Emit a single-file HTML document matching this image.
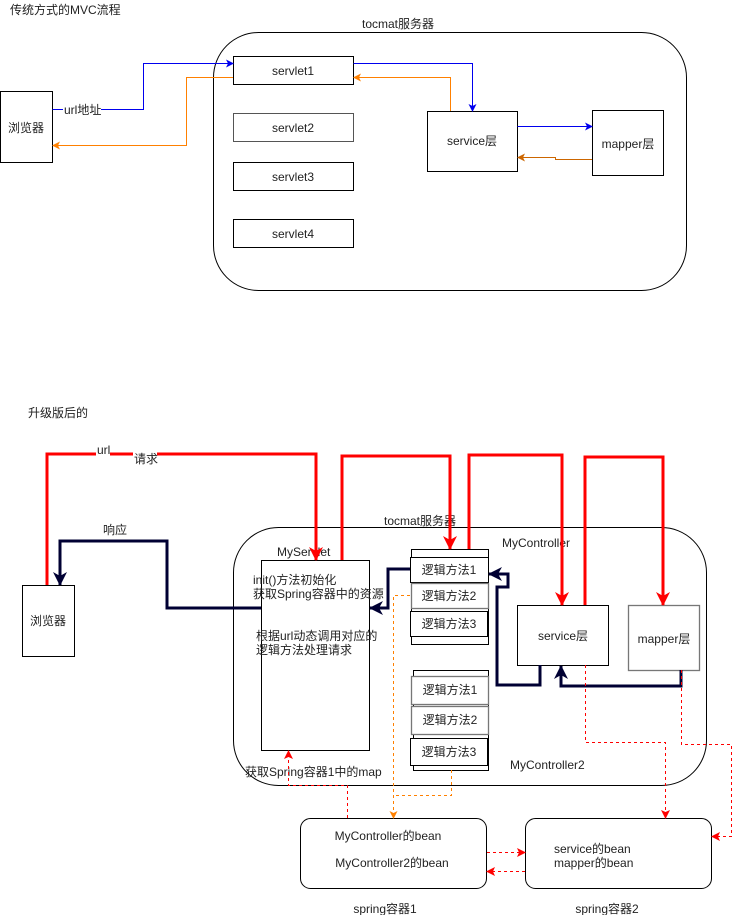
<!DOCTYPE html>
<html><head><meta charset="utf-8"><style>
html,body{margin:0;padding:0;background:#fff;}
svg{display:block;}
text{font-family:"Liberation Sans","Noto Sans CJK SC",sans-serif;font-size:12px;fill:#222;}
</style></head><body>
<svg width="740" height="915" viewBox="0 0 740 915" xmlns="http://www.w3.org/2000/svg">
<defs>
<marker id="ab" markerWidth="8" markerHeight="8" refX="7" refY="4" orient="auto" markerUnits="userSpaceOnUse"><path d="M0,0 L8,4 L0,8 L2,4z" fill="#0000ee"/></marker>
<marker id="ao" markerWidth="8" markerHeight="8" refX="7" refY="4" orient="auto" markerUnits="userSpaceOnUse"><path d="M0,0 L8,4 L0,8 L2,4z" fill="#ff8000"/></marker>
<marker id="ao2" markerWidth="8" markerHeight="8" refX="7" refY="4" orient="auto" markerUnits="userSpaceOnUse"><path d="M0,0 L8,4 L0,8 L2,4z" fill="#cc6600"/></marker>
<marker id="ar" markerWidth="14" markerHeight="14" refX="13" refY="7" orient="auto" markerUnits="userSpaceOnUse"><path d="M0,0 L14,7 L0,14 L4,7z" fill="#ff0000"/></marker>
<marker id="an" markerWidth="14" markerHeight="14" refX="13" refY="7" orient="auto" markerUnits="userSpaceOnUse"><path d="M0,0 L14,7 L0,14 L4,7z" fill="#000033"/></marker>
<marker id="ard" markerWidth="9" markerHeight="9" refX="8" refY="4.5" orient="auto" markerUnits="userSpaceOnUse"><path d="M0,0 L9,4.5 L0,9 L2,4.5z" fill="#ff0000"/></marker>
</defs>

<text x="10" y="14">传统方式的MVC流程</text>
<rect x="213.5" y="32.5" width="473" height="258" rx="45" fill="none" stroke="#000"/>
<text x="398" y="28" text-anchor="middle">tocmat服务器</text>
<rect x="0.5" y="91.5" width="52" height="71" fill="#fff" stroke="#000"/>
<text x="26" y="132" text-anchor="middle">浏览器</text>
<rect x="233.5" y="56.5" width="120" height="28" fill="#fff" stroke="#000"/>
<text x="293" y="75" text-anchor="middle">servlet1</text>
<rect x="233.5" y="113.5" width="120" height="28" fill="#fff" stroke="#555"/>
<text x="293" y="132" text-anchor="middle">servlet2</text>
<rect x="233.5" y="162.5" width="120" height="28" fill="#fff" stroke="#000"/>
<text x="293" y="181" text-anchor="middle">servlet3</text>
<rect x="233.5" y="219.5" width="120" height="28" fill="#fff" stroke="#000"/>
<text x="293" y="238" text-anchor="middle">servlet4</text>
<rect x="427.5" y="111.5" width="90" height="60" fill="#fff" stroke="#000"/>
<text x="472" y="145" text-anchor="middle">service层</text>
<rect x="592.5" y="110.5" width="71" height="65" fill="#fff" stroke="#000"/>
<text x="628" y="148" text-anchor="middle">mapper层</text>

<path d="M52.5,109.5 H143.5 V63.5 H233" fill="none" stroke="#0000ee" marker-end="url(#ab)"/>
<rect x="63" y="103" width="38" height="13" fill="#fff"/>
<text x="64" y="114">url地址</text>
<path d="M233,77.5 H186.5 V145.5 H53" fill="none" stroke="#ff8000" marker-end="url(#ao)"/>
<path d="M353.5,63.5 H472.5 V111" fill="none" stroke="#0000ee" marker-end="url(#ab)"/>
<path d="M450.5,111 V77.5 H354" fill="none" stroke="#ff8000" marker-end="url(#ao)"/>
<path d="M517.5,126.5 H592" fill="none" stroke="#0000ee" marker-end="url(#ab)"/>
<path d="M592,159.5 H555.5 V157.5 H518" fill="none" stroke="#cc6600" marker-end="url(#ao2)"/>

<text x="28" y="417">升级版后的</text>
<rect x="233.5" y="527.5" width="473" height="258" rx="45" fill="none" stroke="#000"/>
<text x="420" y="525" text-anchor="middle">tocmat服务器</text>
<text x="502" y="547">MyController</text>
<text x="510" y="769">MyController2</text>
<rect x="22.5" y="585.5" width="52" height="71" fill="#fff" stroke="#000"/>
<text x="48" y="625" text-anchor="middle">浏览器</text>
<rect x="261.5" y="560.5" width="108" height="190" fill="#fff" stroke="#000"/>
<text x="277" y="556">MyServlet</text>
<text x="253" y="584">init()方法初始化</text>
<text x="253" y="598">获取Spring容器中的资源</text>
<text x="256" y="640">根据url动态调用对应的</text>
<text x="256" y="654">逻辑方法处理请求</text>

<rect x="411.5" y="549.5" width="77" height="95" fill="#fff" stroke="#000"/>
<rect x="410.5" y="557.5" width="78" height="25" fill="#fff" stroke="#000"/>
<text x="449" y="574" text-anchor="middle">逻辑方法1</text>
<rect x="411.5" y="583.5" width="77" height="25" fill="#fff" stroke="#777" stroke-width="1.3"/>
<text x="449" y="600" text-anchor="middle">逻辑方法2</text>
<rect x="410.5" y="611.5" width="77" height="25" fill="#fff" stroke="#000"/>
<text x="449" y="628" text-anchor="middle">逻辑方法3</text>

<rect x="413.5" y="670.5" width="75" height="100" fill="#fff" stroke="#000"/>
<rect x="411.5" y="676.5" width="77" height="28" fill="#fff" stroke="#777" stroke-width="1.3"/>
<text x="450" y="694" text-anchor="middle">逻辑方法1</text>
<rect x="411.5" y="706.5" width="77" height="28" fill="#fff" stroke="#777" stroke-width="1.3"/>
<text x="450" y="724" text-anchor="middle">逻辑方法2</text>
<rect x="410.5" y="738.5" width="77" height="27" fill="#fff" stroke="#000"/>
<text x="449" y="756" text-anchor="middle">逻辑方法3</text>

<rect x="517.5" y="605.5" width="91" height="60" fill="#fff" stroke="#000"/>
<text x="563" y="640" text-anchor="middle">service层</text>
<rect x="628.5" y="605.5" width="71" height="65" fill="#fff" stroke="#777" stroke-width="1.3"/>
<text x="664" y="643" text-anchor="middle">mapper层</text>

<rect x="300.5" y="818.5" width="186" height="70" rx="10" fill="#fff" stroke="#000"/>
<text x="388" y="840" text-anchor="middle">MyController的bean</text>
<text x="392" y="867" text-anchor="middle">MyController2的bean</text>
<rect x="525.5" y="818.5" width="186" height="70" rx="10" fill="#fff" stroke="#000"/>
<text x="554" y="853">service的bean</text>
<text x="554" y="867">mapper的bean</text>
<text x="385" y="913" text-anchor="middle">spring容器1</text>
<text x="607" y="913" text-anchor="middle">spring容器2</text>
<text x="245" y="776">获取Spring容器1中的map</text>

<!-- red thick -->
<g fill="none" stroke="#ff0000" stroke-width="3">
<path d="M47,585 V454 H316 V560" marker-end="url(#ar)"/>
<path d="M342,560 V456 H450 V549" marker-end="url(#ar)"/>
<path d="M469,549 V455 H562 V605" marker-end="url(#ar)"/>
<path d="M585,605 V457 H663 V605" marker-end="url(#ar)"/>
</g>
<rect x="96" y="443" width="14" height="13" fill="#fff"/>
<text x="97" y="454">url</text>
<rect x="133" y="452" width="24" height="13" fill="#fff"/>
<text x="134" y="463">请求</text>
<text x="103" y="534">响应</text>

<!-- navy thick -->
<g fill="none" stroke="#000033" stroke-width="3">
<path d="M261,608 H167 V541 H60 V585" marker-end="url(#an)"/>
<path d="M410,569 H388 V608 H370" marker-end="url(#an)"/>
<path d="M540,665 V685 H497 V587 H508 V574 H489" marker-end="url(#an)"/>
<path d="M681,670 V686 H561 V666" marker-end="url(#an)"/>
</g>

<!-- red dashed -->
<g fill="none" stroke="#ff0000" stroke-dasharray="3,3">
<path d="M585.5,665 V742.5 H665.5 V818" marker-end="url(#ard)"/>
<path d="M681.5,670 V744.5 H731.5 V836.5 H712" marker-end="url(#ard)"/>
<path d="M347.5,818 V785.5 H288.5 V751" marker-end="url(#ard)"/>
<path d="M487,852.5 H525" marker-end="url(#ard)"/>
<path d="M525,871.5 H487" marker-end="url(#ard)"/>
</g>
<!-- orange dashed -->
<g fill="none" stroke="#ff8000" stroke-dasharray="3,3">
<path d="M410,595.5 H393.5 V818" marker-end="url(#ao)"/>
<path d="M451.5,770 V795.5 H393.5"/>
</g>
</svg>
</body></html>
